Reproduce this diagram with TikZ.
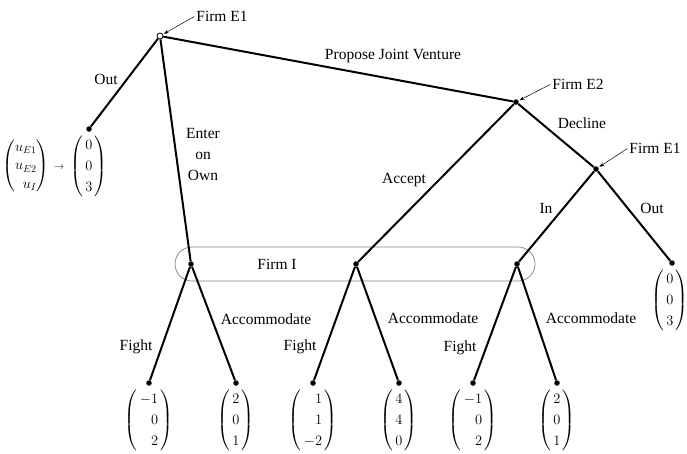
\documentclass[tikz,border=0pt]{standalone}
\usepackage{amsmath}
\usepackage{fontspec}
\setmainfont{Liberation Serif}
\usetikzlibrary{arrows.meta}
\newcommand\pv[3]{$\left(\begin{array}{@{\,}r@{\,}}#1\\#2\\#3\end{array}\right)$}
\renewcommand\arraystretch{1.15}
\begin{document}
\fontsize{15.5}{18}\selectfont
\begin{tikzpicture}[x=1pt,y=-1pt,
  font=\fontsize{15.5}{18}\selectfont,
  edge/.style={line width=2pt},
  dot/.style={circle,fill,inner sep=0pt,minimum size=5.5pt},
  opennode/.style={circle,draw,fill=white,line width=0.8pt,inner sep=0pt,minimum size=6pt},
  lbl/.style={inner sep=1pt},
  pointer/.style={-{Stealth[length=5pt,width=3.5pt]},line width=0.5pt,shorten <=1pt,shorten >=1pt},
  vec/.style={inner sep=0pt,anchor=north},
  infoset/.style={draw=gray,line width=0.7pt,rounded corners=17pt}]
\useasboundingbox (0,0) rectangle (687,453);
% information set
\draw[infoset] (175,247) rectangle (535,281);
% decision nodes
\node[opennode] (r) at (160,36) {};
\node[dot] (o1) at (89,129) {};
\node[dot] (e2) at (516,102) {};
\node[dot] (e1b) at (596,169) {};
\node[dot] (o2) at (672,263) {};
\node[dot] (i1) at (191,264) {};
\node[dot] (i2) at (356,264) {};
\node[dot] (i3) at (517,264) {};
\node[dot] (l1) at (149,383) {};
\node[dot] (l2) at (236,383) {};
\node[dot] (l3) at (313,383) {};
\node[dot] (l4) at (399,383) {};
\node[dot] (l5) at (473,383) {};
\node[dot] (l6) at (557,383) {};
% edges
\draw[edge] (r) -- (o1);
\draw[edge] (r) -- (e2);
\draw[edge] (r) -- (i1);
\draw[edge] (e2) -- (i2);
\draw[edge] (e2) -- (e1b);
\draw[edge] (e1b) -- (i3);
\draw[edge] (e1b) -- (o2);
\draw[edge] (i1) -- (l1);
\draw[edge] (i1) -- (l2);
\draw[edge] (i2) -- (l3);
\draw[edge] (i2) -- (l4);
\draw[edge] (i3) -- (l5);
\draw[edge] (i3) -- (l6);
% payoff vectors
\node[vec] (v0) at ([yshift=-3pt]o1.south) {\pv{0}{0}{3}};
\node[anchor=east,inner sep=0pt,font=\fontsize{14}{16}\selectfont] (leg) at ([xshift=-6pt]v0.west) {$\left(\begin{array}{@{}r@{}}u_{E1}\\u_{E2}\\u_I\end{array}\right)\,{\scriptstyle\rightarrow}$};
\node[vec] (v7) at ([yshift=-3pt,xshift=-2pt]o2.south) {\pv{0}{0}{3}};
\node[vec] (v1) at ([yshift=-3pt]l1.south) {\pv{-1}{0}{2}};
\node[vec] (v2) at ([yshift=-3pt]l2.south) {\pv{2}{0}{1}};
\node[vec] (v3) at ([yshift=-3pt]l3.south) {\pv{1}{1}{-2}};
\node[vec] (v4) at ([yshift=-3pt]l4.south) {\pv{4}{4}{0}};
\node[vec] (v5) at ([yshift=-3pt]l5.south) {\pv{-1}{0}{2}};
\node[vec] (v6) at ([yshift=-3pt]l6.south) {\pv{2}{0}{1}};
% player labels
\node[lbl] (t1) at (222,16) {Firm E1};
\draw[pointer] (t1.west) -- (r);
\node[lbl] (t2) at (578,84) {Firm E2};
\draw[pointer] (t2.west) -- (e2);
\node[lbl] (t3) at (655,148) {Firm E1};
\draw[pointer] (t3.west) -- (e1b);
\node[lbl] (tI) at (277,264) {Firm I};
% action labels
\node[lbl] (aout1) at (106,79) {Out};
\node[lbl] (apjv) at (393,56) {Propose Joint Venture};
\node[lbl,align=center,font=\fontsize{15.5}{21}\selectfont] (aeoo) at (203,154) {Enter\\on\\Own};
\node[lbl] (adec) at (582,123) {Decline};
\node[lbl] (aacc) at (404,180) {Accept};
\node[lbl] (ain) at (546,208) {In};
\node[lbl] (aout2) at (652,208) {Out};
\node[lbl] (af1) at (136,347) {Fight};
\node[lbl] (aa1) at (266,319) {Accommodate};
\node[lbl] (af2) at (300,347) {Fight};
\node[lbl] (aa2) at (433,318) {Accommodate};
\node[lbl] (af3) at (460,348) {Fight};
\node[lbl] (aa3) at (591,318) {Accommodate};
\end{tikzpicture}
\end{document}
